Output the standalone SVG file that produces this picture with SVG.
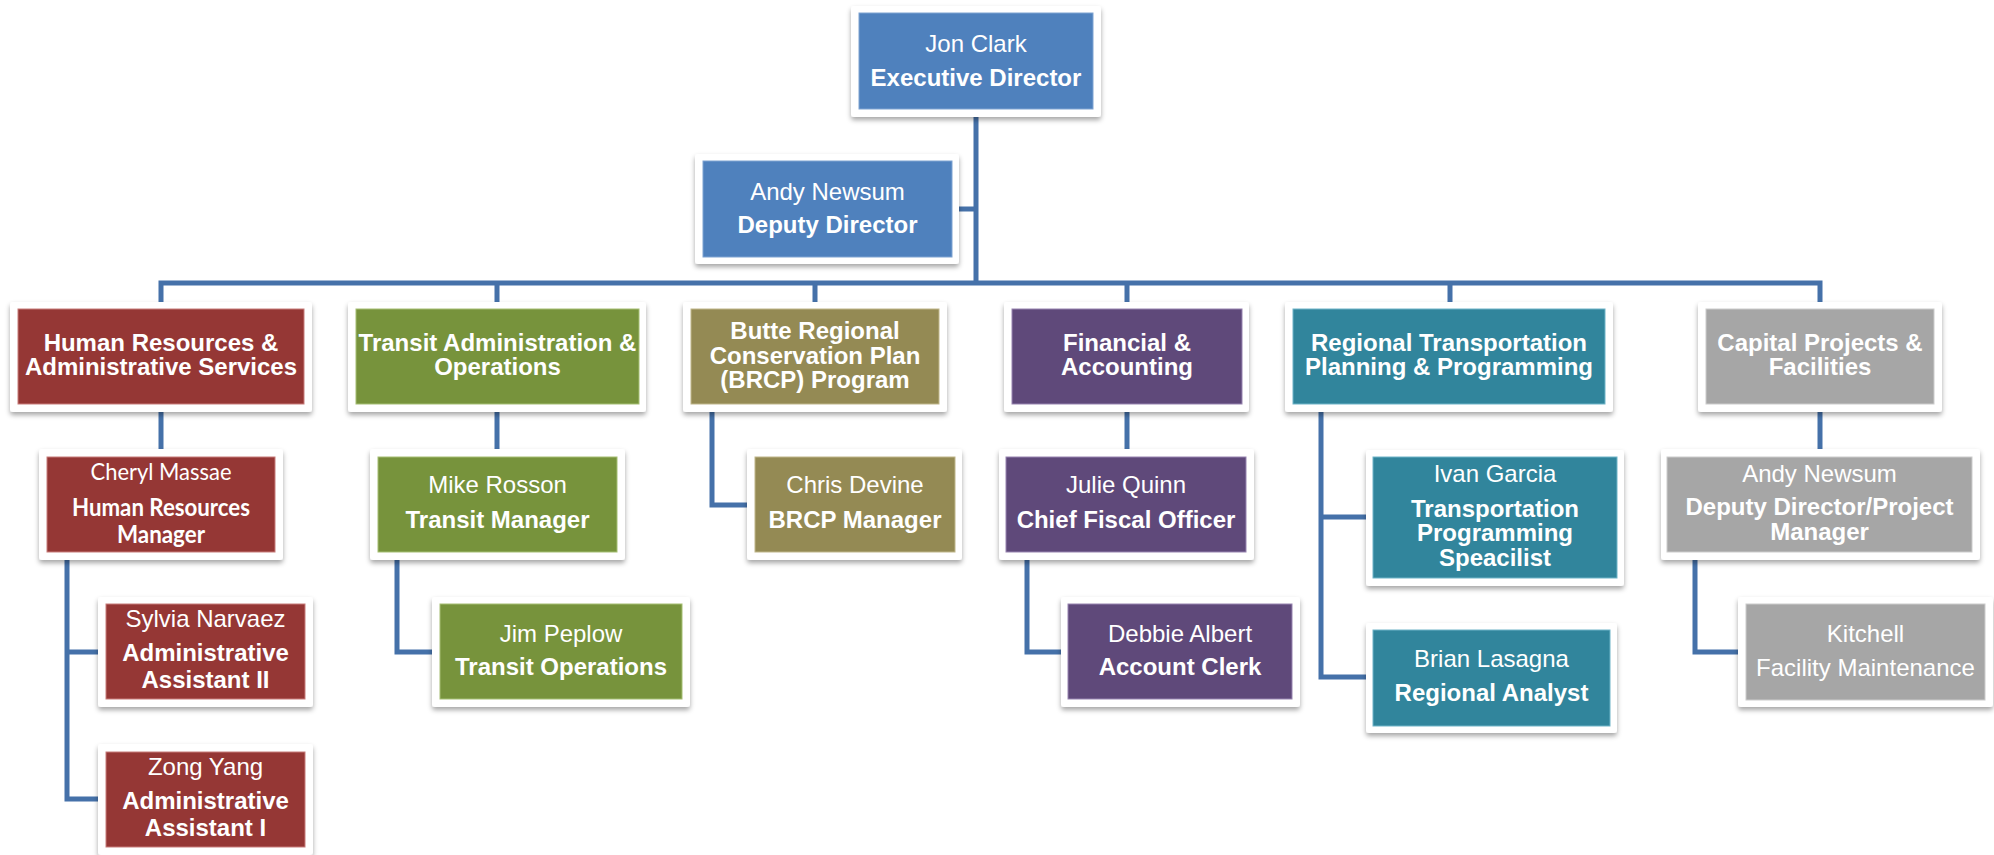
<svg xmlns="http://www.w3.org/2000/svg" width="1994" height="855" viewBox="0 0 1994 855">
<defs>
<filter id="sh" x="-10%" y="-10%" width="120%" height="130%">
<feDropShadow dx="0" dy="3" stdDeviation="2.5" flood-color="#000" flood-opacity="0.35"/>
</filter>
</defs>
<style>
.fr{fill:#fff;filter:url(#sh)}
.t{font-family:"Liberation Sans",Arial,sans-serif;font-size:24px;fill:#fff;text-anchor:middle}
.b{font-weight:bold}
.c{font-family:Lato,"Open Sans",sans-serif}
.blue{fill:#4F81BD;stroke:#7FA3D2;stroke-width:1}
.red{fill:#953735;stroke:#C87C7A;stroke-width:1}
.grn{fill:#77933C;stroke:#A5BE72;stroke-width:1}
.tan{fill:#948A54;stroke:#BFB68A;stroke-width:1}
.pur{fill:#5F497A;stroke:#9784B0;stroke-width:1}
.teal{fill:#31859C;stroke:#6FB4C8;stroke-width:1}
.gry{fill:#A6A6A6;stroke:#CCCCCC;stroke-width:1}
.ln{fill:none;stroke:#4571A9;stroke-width:5;stroke-linejoin:miter}
</style>
<rect width="1994" height="855" fill="#fff"/>
<g id="connectors">
<path class="ln" d="M976,117 V283"/>
<path class="ln" d="M959,209 H976"/>
<path class="ln" d="M161,302 V283 H1820 V302"/>
<path class="ln" d="M497,283 V302 M815,283 V302 M1127,283 V302 M1450,283 V302"/>
<path class="ln" d="M161,412 V449"/>
<path class="ln" d="M67,560 V799 H98 M67,652 H98"/>
<path class="ln" d="M497,412 V449"/>
<path class="ln" d="M397,560 V652 H432"/>
<path class="ln" d="M712,412 V505 H747"/>
<path class="ln" d="M1127,412 V449"/>
<path class="ln" d="M1027,560 V652 H1061"/>
<path class="ln" d="M1321,412 V677 H1366 M1321,517 H1366"/>
<path class="ln" d="M1820,412 V449"/>
<path class="ln" d="M1695,560 V652 H1738"/>
</g>
<g id="jon-clark">
<rect class="fr" x="851" y="6" width="250" height="111" rx="3"/>
<rect class="blue" x="859" y="13" width="234" height="96"/>
<text class="t" x="976" y="52">Jon Clark</text>
<text class="t b" x="976" y="86">Executive Director</text>
</g>
<g id="andy-deputy">
<rect class="fr" x="695" y="154" width="264" height="110" rx="3"/>
<rect class="blue" x="703" y="161" width="249" height="96"/>
<text class="t" x="827.5" y="200">Andy Newsum</text>
<text class="t b" x="827.5" y="233">Deputy Director</text>
</g>
<g id="hr">
<rect class="fr" x="10" y="302" width="302" height="110" rx="3"/>
<rect class="red" x="18" y="309" width="286" height="95"/>
<text class="t b" x="161" y="351">Human Resources &amp;<tspan x="161" dy="24">Administrative Services</tspan></text>
</g>
<g id="transit">
<rect class="fr" x="348" y="302" width="298" height="110" rx="3"/>
<rect class="grn" x="356" y="309" width="283" height="95"/>
<text class="t b" x="497.5" y="351">Transit Administration &amp;<tspan x="497.5" dy="24">Operations</tspan></text>
</g>
<g id="brcp">
<rect class="fr" x="683" y="302" width="264" height="110" rx="3"/>
<rect class="tan" x="691" y="309" width="248" height="95"/>
<text class="t b" x="815" y="339">Butte Regional<tspan x="815" dy="25">Conservation Plan</tspan><tspan x="815" dy="24">(BRCP) Program</tspan></text>
</g>
<g id="financial">
<rect class="fr" x="1004" y="302" width="245" height="110" rx="3"/>
<rect class="pur" x="1012" y="309" width="230" height="95"/>
<text class="t b" x="1127" y="351">Financial &amp;<tspan x="1127" dy="24">Accounting</tspan></text>
</g>
<g id="regional">
<rect class="fr" x="1285" y="302" width="328" height="110" rx="3"/>
<rect class="teal" x="1293" y="309" width="312" height="95"/>
<text class="t b" x="1449" y="351">Regional Transportation<tspan x="1449" dy="24">Planning &amp; Programming</tspan></text>
</g>
<g id="capital">
<rect class="fr" x="1698" y="302" width="244" height="110" rx="3"/>
<rect class="gry" x="1706" y="309" width="228" height="95"/>
<text class="t b" x="1820" y="351">Capital Projects &amp;<tspan x="1820" dy="24">Facilities</tspan></text>
</g>
<g id="cheryl">
<rect class="fr" x="39" y="449" width="244" height="111" rx="3"/>
<rect class="red" x="47" y="457" width="228" height="95"/>
<text class="t c" x="161" y="480" textLength="141" lengthAdjust="spacingAndGlyphs">Cheryl Massae</text>
<text class="t c b" x="161" y="516"><tspan textLength="178" lengthAdjust="spacingAndGlyphs">Human Resources</tspan><tspan x="161" dy="27" textLength="88" lengthAdjust="spacingAndGlyphs">Manager</tspan></text>
</g>
<g id="mike">
<rect class="fr" x="370" y="449" width="255" height="111" rx="3"/>
<rect class="grn" x="378" y="457" width="239" height="95"/>
<text class="t" x="497.5" y="493">Mike Rosson</text>
<text class="t b" x="497.5" y="528">Transit Manager</text>
</g>
<g id="chris">
<rect class="fr" x="747" y="449" width="215" height="111" rx="3"/>
<rect class="tan" x="755" y="457" width="200" height="95"/>
<text class="t" x="855" y="493">Chris Devine</text>
<text class="t b" x="855" y="528">BRCP Manager</text>
</g>
<g id="julie">
<rect class="fr" x="999" y="449" width="255" height="111" rx="3"/>
<rect class="pur" x="1006" y="457" width="240" height="95"/>
<text class="t" x="1126" y="493">Julie Quinn</text>
<text class="t b" x="1126" y="528">Chief Fiscal Officer</text>
</g>
<g id="ivan">
<rect class="fr" x="1366" y="450" width="258" height="136" rx="3"/>
<rect class="teal" x="1373" y="457" width="244" height="121"/>
<text class="t" x="1495" y="482">Ivan Garcia</text>
<text class="t b" x="1495" y="517">Transportation<tspan x="1495" dy="24">Programming</tspan><tspan x="1495" dy="25">Speacilist</tspan></text>
</g>
<g id="andy-capital">
<rect class="fr" x="1661" y="449" width="319" height="111" rx="3"/>
<rect class="gry" x="1667" y="457" width="305" height="95"/>
<text class="t" x="1819.5" y="482">Andy Newsum</text>
<text class="t b" x="1819.5" y="515">Deputy Director/Project<tspan x="1819.5" dy="25">Manager</tspan></text>
</g>
<g id="sylvia">
<rect class="fr" x="98" y="597" width="215" height="110" rx="3"/>
<rect class="red" x="106" y="604" width="199" height="95"/>
<text class="t" x="205.5" y="627">Sylvia Narvaez</text>
<text class="t b" x="205.5" y="661">Administrative<tspan x="205.5" dy="27">Assistant II</tspan></text>
</g>
<g id="jim">
<rect class="fr" x="432" y="597" width="258" height="110" rx="3"/>
<rect class="grn" x="440" y="604" width="242" height="95"/>
<text class="t" x="561" y="642">Jim Peplow</text>
<text class="t b" x="561" y="675">Transit Operations</text>
</g>
<g id="debbie">
<rect class="fr" x="1061" y="597" width="239" height="110" rx="3"/>
<rect class="pur" x="1068" y="604" width="224" height="95"/>
<text class="t" x="1180" y="642">Debbie Albert</text>
<text class="t b" x="1180" y="675">Account Clerk</text>
</g>
<g id="brian">
<rect class="fr" x="1366" y="623" width="251" height="110" rx="3"/>
<rect class="teal" x="1373" y="630" width="237" height="96"/>
<text class="t" x="1491.5" y="667">Brian Lasagna</text>
<text class="t b" x="1491.5" y="701">Regional Analyst</text>
</g>
<g id="kitchell">
<rect class="fr" x="1738" y="597" width="255" height="110" rx="3"/>
<rect class="gry" x="1746" y="604" width="239" height="96"/>
<text class="t" x="1865.5" y="642">Kitchell</text>
<text class="t" x="1865.5" y="676">Facility Maintenance</text>
</g>
<g id="zong">
<rect class="fr" x="98" y="744" width="215" height="111" rx="3"/>
<rect class="red" x="106" y="752" width="199" height="95"/>
<text class="t" x="205.5" y="775">Zong Yang</text>
<text class="t b" x="205.5" y="809">Administrative<tspan x="205.5" dy="27">Assistant I</tspan></text>
</g>
</svg>
